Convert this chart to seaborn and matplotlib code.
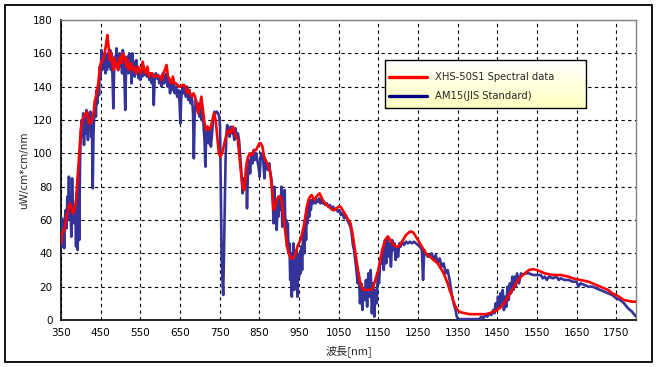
import numpy as np
import pandas as pd
import matplotlib
matplotlib.use("Agg")
import matplotlib.pyplot as plt
from matplotlib.lines import Line2D
from matplotlib.patches import Rectangle
from matplotlib.colors import LinearSegmentedColormap
import seaborn as sns

# ---------------- data ----------------
am15_wl = [350,352,354,356,358,360,362,364,366,368,370,372,374,376,378,380,382,384,386,388,390,392,394,396,398,
           400,402,404,406,408,410,412,414,416,418,420,422,424,426,428,430,432,434,436,438,440,442,444,446,448,
           450,452,454,456,458,460,462,464,466,468,470,472,474,476,478,480,482,484,486,488,490,492,494,496,498,
           500,502,504,506,508,510,512,514,516,518,520,522,524,526,528,530,532,534,536,538,540,542,544,546,548,
           550,552,555,558,561,564,567,570,573,576,579,582,584,586,589,592,595,598,601,604,607,610,613,616,619,
           622,625,628,631,634,637,640,643,646,649,651,653,656,659,662,665,668,671,674,677,680,683,685,687,690,
           693,696,699,702,704,706,709,712,714,716,719,722,725,728,731,734,737,740,743,746,749,751,753,755,757,
           759,761,763,765,767,769,772,775,778,781,784,787,790,793,796,799,802,805,808,811,814,817,819,821,824,
           827,830,833,836,839,842,845,848,851,854,857,860,863,866,869,872,875,878,881,884,886,888,890,892,894,
           896,898,900,903,906,908,910,912,914,916,918,920,922,924,926,928,930,932,934,936,938,940,942,944,946,
           948,950,952,954,956,958,960,962,964,966,968,970,972,974,976,978,980,983,986,989,992,995,998,1001,1004,
           1007,1010,1013,1016,1020,1024,1028,1032,1036,1040,1044,1048,1052,1056,1060,1064,1068,1072,1076,1080,
           1083,1086,1089,1092,1095,1098,1101,1104,1107,1110,1113,1116,1119,1122,1125,1128,1131,1134,1137,1140,
           1143,1146,1149,1152,1155,1158,1161,1164,1167,1170,1173,1176,1179,1182,1185,1188,1191,1194,1197,1200,
           1203,1206,1210,1215,1220,1225,1230,1235,1240,1245,1250,1255,1260,1263,1266,1270,1275,1280,1285,1290,
           1295,1300,1305,1310,1315,1320,1325,1330,1335,1340,1345,1348,1352,1360,1370,1380,1390,1400,1405,1410,
           1415,1420,1425,1430,1435,1440,1443,1446,1449,1452,1455,1458,1461,1464,1467,1470,1473,1476,1479,1482,
           1485,1488,1491,1494,1497,1500,1505,1510,1515,1520,1530,1540,1550,1560,1565,1570,1575,1580,1590,1600,
           1605,1610,1620,1630,1640,1650,1655,1660,1670,1680,1690,1700,1710,1720,1730,1740,1750,1760,1770,1780,
           1790,1800]
am15_val = [50,61,44,60,43,62,66,55,74,64,86,60,70,50,85,62,65,58,68,44,76,42,84,48,95,
            112,120,110,124,105,122,112,126,118,108,124,115,125,110,118,79,112,125,132,122,138,130,140,135,152,
            145,162,150,158,152,160,148,156,150,160,152,158,162,150,160,145,127,150,158,152,163,156,150,158,160,
            152,158,148,162,155,145,126,150,156,158,148,160,152,158,142,160,148,155,146,150,156,148,152,145,150,
            144,150,146,152,147,150,146,148,144,148,142,146,129,144,148,145,147,142,146,140,148,142,146,148,140,
            145,136,144,138,142,136,140,134,138,130,118,132,140,136,140,134,140,132,138,130,134,124,97,122,132,
            126,130,122,128,120,126,118,108,92,110,116,106,114,104,112,122,125,124,125,124,122,116,80,40,25,
            15,40,70,96,110,117,114,110,116,112,114,108,115,110,112,108,98,88,76,85,80,92,67,85,96,
            88,100,94,102,96,100,96,92,86,100,98,96,85,96,92,90,94,88,84,72,58,80,62,72,54,
            70,62,74,66,80,56,72,60,78,52,60,44,58,40,46,24,40,14,36,46,18,38,28,42,14,
            36,26,40,28,44,30,46,52,40,60,48,66,58,70,62,72,66,72,70,73,70,72,71,73,70,
            72,70,71,69,70,68,69,67,68,66,67,65,66,63,64,61,63,60,58,56,
            52,45,42,36,30,22,28,10,22,6,18,12,24,8,28,14,30,4,22,2,
            18,10,28,22,36,34,42,30,48,34,50,38,46,32,48,42,46,36,44,38,
            46,44,47,45,47,46,47,46,47,46,45,44,42,24,42,40,38,39,40,36,
            39,34,37,32,34,28,30,24,16,10,6,2,0.5,0.5,0.5,0.5,0.5,0.5,0.5,2,
            1,3,2,4,3,6,4,10,6,14,8,16,10,18,6,14,8,20,12,22,
            16,26,18,26,20,28,22,28,27,28,28,27,27,27,25,26,24,26,25,26,
            24,25,24,24,23,23,20,22,21,20,20,19,18,17,16,15,13,12,10,7,
            5,2]

xhs_wl = [350,352,356,360,364,368,372,376,380,384,388,392,396,400,404,408,412,416,420,424,428,432,436,440,444,448,
          452,456,460,464,467,470,473,476,479,482,485,488,491,494,497,500,503,506,509,512,515,518,521,524,527,530,
          533,536,540,544,548,552,556,560,564,568,572,576,580,584,588,592,596,600,604,608,612,616,620,624,628,632,
          636,640,644,648,652,656,660,664,668,672,676,680,684,688,692,696,700,704,708,712,716,720,724,728,732,736,
          740,744,748,752,756,760,764,768,772,776,780,784,788,792,796,800,804,808,812,815,818,822,826,830,834,838,
          842,846,850,854,858,862,866,870,874,878,882,886,890,894,898,902,906,910,914,918,922,926,930,934,938,942,
          946,950,954,958,962,966,970,974,978,982,986,990,994,998,1002,1006,1010,1015,1020,1025,1030,1035,1040,1045,
          1050,1055,1060,1065,1070,1075,1080,1085,1090,1095,1100,1105,1110,1115,1120,1125,1130,1135,1140,1145,1150,
          1155,1160,1165,1170,1175,1180,1185,1190,1195,1200,1205,1210,1215,1220,1225,1230,1235,1240,1245,1250,1255,
          1260,1265,1270,1275,1280,1285,1290,1295,1300,1305,1310,1315,1320,1325,1330,1335,1340,1345,1350,1355,1360,
          1370,1380,1390,1400,1410,1420,1430,1440,1450,1460,1470,1480,1490,1500,1510,1520,1530,1540,1550,1560,1570,
          1580,1590,1600,1610,1620,1630,1640,1650,1660,1670,1680,1690,1700,1710,1720,1730,1740,1750,1760,1770,1780,
          1790,1800]
xhs_val = [46,52,53,56,62,66,70,68,64,66,72,86,100,114,120,122,124,125,118,118,120,124,132,136,142,152,
           155,156,160,166,171,164,156,160,155,150,157,152,154,150,156,158,154,160,157,158,152,156,150,152,154,150,
           152,150,148,152,150,148,155,150,148,152,146,148,148,146,146,147,146,146,144,148,150,153,146,144,142,146,
           142,142,141,140,140,141,141,140,136,138,136,134,136,134,130,124,128,134,126,118,114,116,114,116,120,124,
           120,110,100,98,100,104,108,112,114,112,114,116,112,110,108,98,88,80,78,84,94,98,100,99,100,102,
           102,104,106,106,104,98,96,94,92,88,78,66,68,72,74,74,72,64,56,48,42,39,37,37,38,40,
           44,46,48,52,56,62,68,72,74,75,73,72,74,75,76,74,72,70,69,68,67,66,66,67,
           68,68,66,64,62,60,58,52,44,36,28,22,19,18,18,18,18,19,22,26,30,
           36,42,46,49,50,48,46,45,44,44,45,47,49,51,52,53,53,52,50,48,46,
           44,42,40,39,38,37,36,35,34,32,30,28,25,22,18,15,11,8,6,5,4.5,
           4,3.5,3.5,3.5,3.5,3.5,4,5,6,8,11,15,19,23,26,28,30,30.5,30,29,28,
           27.5,27,27,27,26.5,26,25,24.5,24,23.5,23,22,21,20,19,18,16,15,13.5,12,11.5,
           11,11]

series_names = ["XHS-50S1 Spectral data", "AM15(JIS Standard)"]
x_ticks = [350, 450, 550, 650, 750, 850, 950, 1050, 1150, 1250, 1350, 1450, 1550, 1650, 1750]
y_ticks = [0, 20, 40, 60, 80, 100, 120, 140, 160, 180]

df_am = pd.DataFrame({"wl": am15_wl, "val": am15_val})
df_x = pd.DataFrame({"wl": xhs_wl, "val": xhs_val})

# ---------------- plot ----------------
sns.set_theme(style="white")
plt.rcParams["font.family"] = ["DejaVu Sans", "Noto Sans CJK JP"]

fig = plt.figure(figsize=(6.58, 3.67), dpi=100)
ax = fig.add_axes([61/658, 47/367, 575/658, 300/367])

blue = "#333399"
red = "#ff0000"
sns.lineplot(data=df_am, x="wl", y="val", ax=ax, color=blue, lw=1.9, sort=False, zorder=3)
sns.lineplot(data=df_x, x="wl", y="val", ax=ax, color=red, lw=1.9, sort=False, zorder=4)

ax.set_xlim(350, 1800)
ax.set_ylim(0, 180)
ax.set_xticks(x_ticks)
ax.set_yticks(y_ticks)
ax.set_xticklabels([str(t) for t in x_ticks], fontsize=7.5)
ax.set_yticklabels([str(t) for t in y_ticks], fontsize=7.5)
ax.tick_params(axis="both", length=0, pad=6, colors="black")
ax.grid(True, color="black", linestyle=(0, (3, 3)), linewidth=0.8)
ax.set_axisbelow(True)

for s in ["left", "bottom"]:
    ax.spines[s].set_color("black")
    ax.spines[s].set_linewidth(1.2)
for s in ["top", "right"]:
    ax.spines[s].set_color("#808080")
    ax.spines[s].set_linewidth(1.0)

ax.set_xlabel("波長[nm]", fontsize=8, family=["Noto Sans CJK JP", "DejaVu Sans"], labelpad=5)
ax.set_ylabel("uW/cm*cm/nm", fontsize=7.5, labelpad=3)

# legend with gradient background
lx0, lx1 = (385-61)/575, (586-61)/575
ly1, ly0 = (320-60)/300, (320-108)/300
grad = np.linspace(0, 1, 64).reshape(-1, 1)
cmap = LinearSegmentedColormap.from_list("ly", ["#ffffff", "#ffffc0"])
ax.imshow(grad, extent=[lx0, lx1, ly0, ly1], transform=ax.transAxes, cmap=cmap,
          aspect="auto", zorder=8, origin="upper")
ax.add_patch(Rectangle((lx0, ly0), lx1-lx0, ly1-ly0, transform=ax.transAxes,
                       fill=False, edgecolor="black", lw=1.0, zorder=9))
handles = [Line2D([], [], color=red, lw=2.4), Line2D([], [], color="#000080", lw=2.4)]
leg = ax.legend(handles, series_names, loc="upper left",
                bbox_to_anchor=((385-61)/575, (320-68)/300),
                frameon=False, fontsize=7.2, handlelength=3.8, handletextpad=0.8,
                borderaxespad=0, borderpad=0.4, labelspacing=0.9)
leg.set_zorder(10)
ax.set_xlim(350, 1800)
ax.set_ylim(0, 180)

# figure border
fig.patches.append(Rectangle((5/658, 5/367), 647/658, 357/367, transform=fig.transFigure,
                             fill=False, edgecolor="black", lw=1.3))

fig.savefig("out.png", dpi=100)
